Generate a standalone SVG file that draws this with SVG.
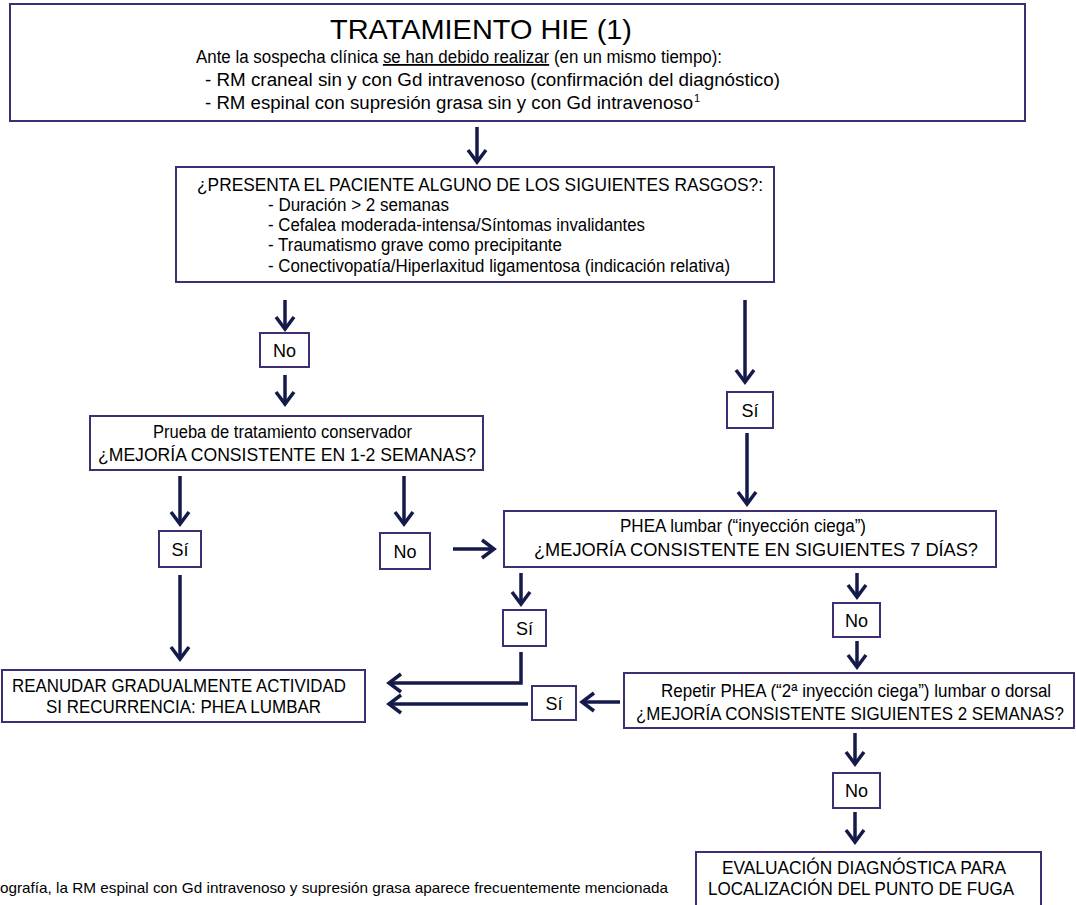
<svg xmlns="http://www.w3.org/2000/svg" width="1076" height="905" viewBox="0 0 1076 905">
<defs>
<style>
.box{fill:#fff;stroke:#3f2f72;stroke-width:2}
.t{font-family:"Liberation Sans",Arial,sans-serif;fill:#000}
.b{font-size:17.5px}
.s{font-size:18px}
.c{stroke:#141a4a;stroke-width:3.5;fill:none}
</style>
<marker id="ah" viewBox="-14 -12 17 24" refX="0" refY="0" markerWidth="17" markerHeight="24" markerUnits="userSpaceOnUse" orient="auto">
<path d="M-12,-9 L0,0 L-12,9" fill="none" stroke="#141a4a" stroke-width="3.5"/>
</marker>
</defs>
<rect width="1076" height="905" fill="#fff"/>

<g id="connectors">
<line class="c" x1="477" y1="127" x2="477" y2="162" marker-end="url(#ah)"/>
<line class="c" x1="285" y1="300" x2="285" y2="329" marker-end="url(#ah)"/>
<line class="c" x1="745" y1="300" x2="745" y2="382" marker-end="url(#ah)"/>
<line class="c" x1="285" y1="375" x2="285" y2="404" marker-end="url(#ah)"/>
<line class="c" x1="747" y1="433" x2="747" y2="504" marker-end="url(#ah)"/>
<line class="c" x1="180" y1="476" x2="180" y2="524" marker-end="url(#ah)"/>
<line class="c" x1="404" y1="476" x2="404" y2="524" marker-end="url(#ah)"/>
<line class="c" x1="453" y1="549" x2="494" y2="549" marker-end="url(#ah)"/>
<line class="c" x1="180" y1="575" x2="180" y2="659" marker-end="url(#ah)"/>
<line class="c" x1="521" y1="573" x2="521" y2="604" marker-end="url(#ah)"/>
<line class="c" x1="857" y1="573" x2="857" y2="597" marker-end="url(#ah)"/>
<line class="c" x1="857" y1="641" x2="857" y2="667" marker-end="url(#ah)"/>
<polyline class="c" points="521,652 521,683 389,683" marker-end="url(#ah)"/>
<line class="c" x1="620" y1="702" x2="582" y2="702" marker-end="url(#ah)"/>
<line class="c" x1="528" y1="704" x2="389" y2="704" marker-end="url(#ah)"/>
<line class="c" x1="855" y1="733" x2="855" y2="764" marker-end="url(#ah)"/>
<line class="c" x1="855" y1="812" x2="855" y2="842" marker-end="url(#ah)"/>
</g>

<g id="title">
<rect class="box" x="10" y="4" width="1015" height="117"/>
<text class="t" x="330" y="39" font-size="28" textLength="302" lengthAdjust="spacingAndGlyphs">TRATAMIENTO  HIE  (1)</text>
<text class="t s" x="196" y="63" textLength="526" lengthAdjust="spacingAndGlyphs">Ante la sospecha clínica <tspan text-decoration="underline">se han debido realizar</tspan> (en un mismo tiempo):</text>
<text class="t s" x="205" y="86" textLength="575" lengthAdjust="spacingAndGlyphs">- RM craneal sin y con Gd intravenoso (confirmación del diagnóstico)</text>
<text class="t s" x="205" y="109" textLength="488" lengthAdjust="spacingAndGlyphs">- RM espinal con supresión grasa sin y con Gd intravenoso</text>
<text class="t" x="694" y="102" font-size="11">1</text>
</g>

<g id="rasgos">
<rect class="box" x="176" y="167" width="598" height="115"/>
<text class="t b" x="197" y="191" textLength="566" lengthAdjust="spacingAndGlyphs">¿PRESENTA EL PACIENTE ALGUNO DE LOS SIGUIENTES RASGOS?:</text>
<text class="t b" x="268" y="211" textLength="181" lengthAdjust="spacingAndGlyphs">- Duración &gt; 2 semanas</text>
<text class="t b" x="268" y="231" textLength="377" lengthAdjust="spacingAndGlyphs">- Cefalea moderada-intensa/Síntomas invalidantes</text>
<text class="t b" x="268" y="251" textLength="294" lengthAdjust="spacingAndGlyphs">- Traumatismo grave como precipitante</text>
<text class="t b" x="268" y="272" textLength="462" lengthAdjust="spacingAndGlyphs">- Conectivopatía/Hiperlaxitud ligamentosa (indicación relativa)</text>
</g>

<g id="no1">
<rect class="box" x="260" y="333" width="49" height="34"/>
<text class="t s" x="284.5" y="357" text-anchor="middle">No</text>
</g>

<g id="si1">
<rect class="box" x="727" y="392" width="46" height="36"/>
<text class="t s" x="750" y="417" text-anchor="middle">Sí</text>
</g>

<g id="conservador">
<rect class="box" x="90" y="416" width="393" height="54"/>
<text class="t b" x="153" y="438" textLength="259" lengthAdjust="spacingAndGlyphs">Prueba de tratamiento conservador</text>
<text class="t b" x="98" y="461" textLength="378" lengthAdjust="spacingAndGlyphs">¿MEJORÍA CONSISTENTE  EN 1-2 SEMANAS?</text>
</g>

<g id="si2">
<rect class="box" x="159" y="531" width="42" height="36"/>
<text class="t s" x="180" y="556" text-anchor="middle">Sí</text>
</g>

<g id="no2">
<rect class="box" x="380" y="533" width="50" height="36"/>
<text class="t s" x="405" y="558" text-anchor="middle">No</text>
</g>

<g id="phea">
<rect class="box" x="504" y="511" width="492" height="56"/>
<text class="t b" x="620" y="532" textLength="246" lengthAdjust="spacingAndGlyphs">PHEA lumbar  (“inyección ciega”)</text>
<text class="t b" x="534" y="556" textLength="444" lengthAdjust="spacingAndGlyphs">¿MEJORÍA CONSISTENTE  EN SIGUIENTES 7 DÍAS?</text>
</g>

<g id="si3">
<rect class="box" x="503" y="610" width="43" height="36"/>
<text class="t s" x="524.5" y="635" text-anchor="middle">Sí</text>
</g>

<g id="no3">
<rect class="box" x="833" y="603" width="47" height="34"/>
<text class="t s" x="856.5" y="627" text-anchor="middle">No</text>
</g>

<g id="reanudar">
<rect class="box" x="2" y="670" width="363" height="52"/>
<text class="t b" x="12" y="692" textLength="334" lengthAdjust="spacingAndGlyphs">REANUDAR GRADUALMENTE ACTIVIDAD</text>
<text class="t b" x="46" y="713" textLength="275" lengthAdjust="spacingAndGlyphs">SI RECURRENCIA:  PHEA LUMBAR</text>
</g>

<g id="si4">
<rect class="box" x="532" y="686" width="44" height="34"/>
<text class="t s" x="554" y="710" text-anchor="middle">Sí</text>
</g>

<g id="repetir">
<rect class="box" x="624" y="673" width="450" height="55"/>
<text class="t b" transform="translate(661,697) scale(0.85,1)" x="0" y="0" textLength="459" lengthAdjust="spacingAndGlyphs">Repetir PHEA (“2ª inyección ciega”) lumbar o dorsal</text>
<text class="t b" transform="translate(636,720) scale(0.85,1)" x="0" y="0" textLength="503.5" lengthAdjust="spacingAndGlyphs">¿MEJORÍA CONSISTENTE SIGUIENTES 2 SEMANAS?</text>
</g>

<g id="no4">
<rect class="box" x="833" y="773" width="47" height="35"/>
<text class="t s" x="856.5" y="797" text-anchor="middle">No</text>
</g>

<g id="evaluacion">
<rect class="box" x="696" y="852" width="345" height="60"/>
<text class="t b" x="722" y="874" textLength="284" lengthAdjust="spacingAndGlyphs">EVALUACIÓN DIAGNÓSTICA PARA</text>
<text class="t b" x="708" y="895" textLength="306" lengthAdjust="spacingAndGlyphs">LOCALIZACIÓN DEL PUNTO DE FUGA</text>
</g>

<g id="footnote">
<text class="t" x="0" y="893" font-size="15" textLength="668" lengthAdjust="spacingAndGlyphs">ografía, la RM espinal con Gd intravenoso y supresión grasa aparece frecuentemente mencionada</text>
</g>
</svg>
